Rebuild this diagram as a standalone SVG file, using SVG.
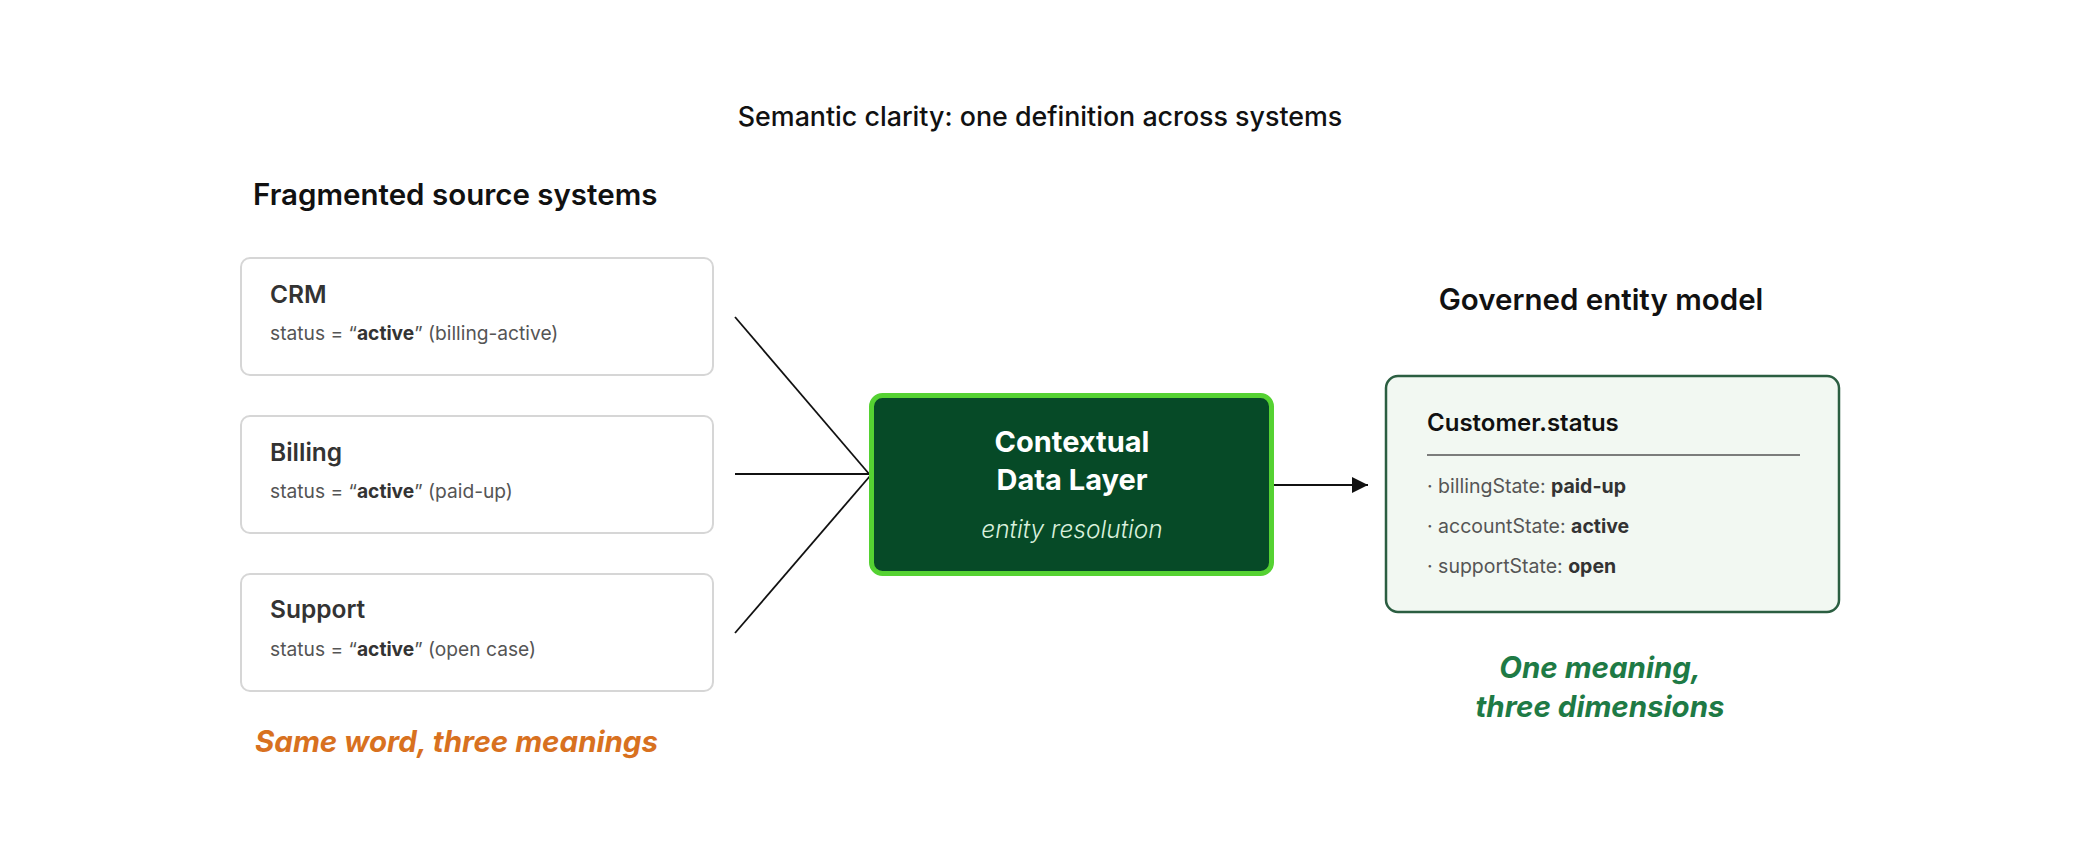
<svg xmlns="http://www.w3.org/2000/svg" width="2080" height="864" viewBox="0 0 2080 864">
<defs>
<style>
text{font-family:"Inter","Lato","Noto Sans",sans-serif;}
.h{font-size:29.5px;font-weight:600;fill:#111;}
.src{fill:#fff;stroke:#d6d6d6;stroke-width:2;}
.lbl{font-size:24.5px;font-weight:600;fill:#333;}
.st{font-size:19.2px;font-weight:400;fill:#555;}
.st tspan.b{font-weight:700;fill:#333;}
.conn{stroke:#111;stroke-width:1.8;fill:none;}
.core-t{font-size:29px;font-weight:700;fill:#fff;}
.core-s{font-size:24.5px;font-style:italic;font-weight:300;fill:#d9f0dc;}
.bul{font-size:19.5px;font-weight:400;fill:#555;}
.bul tspan.b{font-weight:700;fill:#333;}
.note{font-size:29.5px;font-weight:700;font-style:italic;}
</style>
<marker id="arr" viewBox="0 0 10 10" refX="10" refY="5" markerWidth="9" markerHeight="9" markerUnits="strokeWidth" orient="auto">
<path d="M0,0 L10,5 L0,10 z" fill="#111"/>
</marker>
</defs>
<rect width="2080" height="864" fill="#fff"/>
<text x="1040" y="126" text-anchor="middle" style="font-size:26.8px;font-weight:500;fill:#111;">Semantic clarity: one definition across systems</text>
<text class="h" x="253" y="205">Fragmented source systems</text>
<text class="h" x="1601" y="310" text-anchor="middle">Governed entity model</text>
<g id="connectors">
<line class="conn" x1="735" y1="317" x2="870" y2="475"/>
<line class="conn" x1="735" y1="474" x2="870" y2="474"/>
<line class="conn" x1="735" y1="633" x2="870" y2="476"/>
<line class="conn" x1="1274" y1="485" x2="1368" y2="485" stroke-width="2" marker-end="url(#arr)"/>
</g>
<g id="crm">
<rect class="src" x="241" y="258" width="472" height="117" rx="9"/>
<text class="lbl" x="270" y="303">CRM</text>
<text class="st" x="270" y="340">status = “<tspan class="b">active</tspan>” (billing-active)</text>
</g>
<g id="billing">
<rect class="src" x="241" y="416" width="472" height="117" rx="9"/>
<text class="lbl" x="270" y="461">Billing</text>
<text class="st" x="270" y="498">status = “<tspan class="b">active</tspan>” (paid-up)</text>
</g>
<g id="support">
<rect class="src" x="241" y="574" width="472" height="117" rx="9"/>
<text class="lbl" x="270" y="618">Support</text>
<text class="st" x="270" y="656">status = “<tspan class="b">active</tspan>” (open case)</text>
</g>
<g id="contextual-data-layer">
<rect x="871.5" y="395.5" width="400" height="178" rx="11" fill="#064a27" stroke="#55d232" stroke-width="5"/>
<text class="core-t" x="1072" y="452" text-anchor="middle">Contextual</text>
<text class="core-t" x="1072" y="490" text-anchor="middle">Data Layer</text>
<text class="core-s" x="1072" y="538" text-anchor="middle">entity resolution</text>
</g>
<g id="customer-status">
<rect x="1386" y="376" width="453" height="236" rx="12" fill="#f2f8f2" stroke="#2b5e41" stroke-width="2.5"/>
<text x="1427" y="431" style="font-size:24px;font-weight:600;fill:#111;">Customer.status</text>
<line x1="1427" y1="455" x2="1800" y2="455" stroke="#555" stroke-width="1.5"/>
<text class="bul" x="1427" y="493">· billingState: <tspan class="b">paid-up</tspan></text>
<text class="bul" x="1427" y="533">· accountState: <tspan class="b">active</tspan></text>
<text class="bul" x="1427" y="573">· supportState: <tspan class="b">open</tspan></text>
</g>
<text class="note" x="255" y="752" fill="#d8711f">Same word, three meanings</text>
<text class="note" x="1600" y="678" text-anchor="middle" fill="#1e7a45">One meaning,</text>
<text class="note" x="1600" y="717" text-anchor="middle" fill="#1e7a45">three dimensions</text>
</svg>
